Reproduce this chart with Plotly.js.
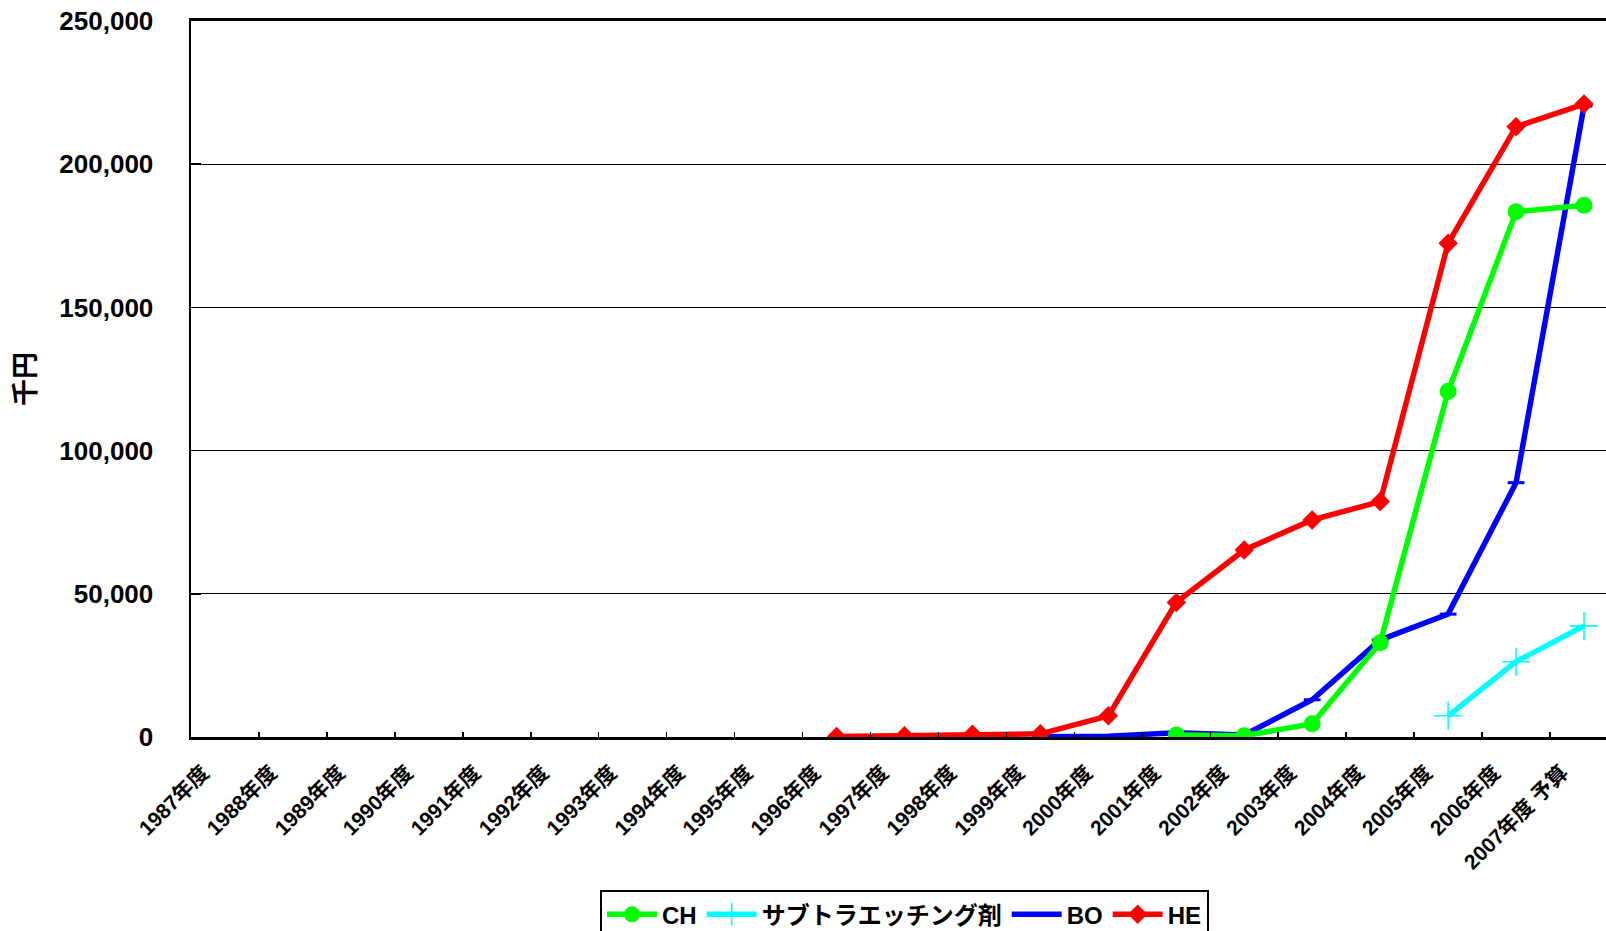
<!DOCTYPE html>
<html>
<head>
<meta charset="utf-8">
<script src="https://cdn.plot.ly/plotly-3.0.1.min.js"></script>
<style>
html,body{margin:0;padding:0;overflow:hidden;background:#fff;}
#chart{width:1630px;height:970px;}
</style>
</head>
<body>
<div id="chart"></div>
<script>
const categories = ["1987年度","1988年度","1989年度","1990年度","1991年度","1992年度","1993年度","1994年度","1995年度","1996年度","1997年度","1998年度","1999年度","2000年度","2001年度","2002年度","2003年度","2004年度","2005年度","2006年度","2007年度 予算"];
const chValues   = [null,null,null,null,null,null,null,null,null,null,null,null,null,null,700,450,4600,32900,120700,183400,185700];
const subValues  = [null,null,null,null,null,null,null,null,null,null,null,null,null,null,null,null,null,null,7400,26300,38800];
const boValues   = [null,null,null,null,null,null,null,null,null,null,null,null,100,300,1500,700,13000,33900,42900,88800,220300];
const heValues   = [null,null,null,null,null,null,null,null,null,200,400,1000,1100,7400,47000,65300,75800,82200,172400,213100,221000];
const yTicks = [0,50000,100000,150000,200000,250000];
const yTickText = ["0","50,000","100,000","150,000","200,000","250,000"];
const seriesNames = ["CH","サブトラエッチング剤","BO","HE"];

const FONT = "Liberation Sans, Arial, Noto Sans CJK JP, sans-serif";

const traces = [
  {
    x: categories, y: boValues, name: seriesNames[2], type: "scatter", mode: "lines+markers",
    legendrank: 3,
    line: {color: "#0000FF", width: 5.5},
    marker: {symbol: "line-ew-open", size: 12, line: {color: "#0000FF", width: 3}}
  },
  {
    x: categories, y: subValues, name: seriesNames[1], type: "scatter", mode: "lines+markers",
    legendrank: 2,
    line: {color: "#00FFFF", width: 5.5},
    marker: {symbol: "cross-thin-open", size: 20, line: {color: "#008080", width: 1.6}}
  },
  {
    x: categories, y: chValues, name: seriesNames[0], type: "scatter", mode: "lines+markers",
    legendrank: 1,
    line: {color: "#00FF00", width: 5.5},
    marker: {symbol: "circle", size: 17, color: "#00FF00"}
  },
  {
    x: categories, y: heValues, name: seriesNames[3], type: "scatter", mode: "lines+markers",
    legendrank: 4,
    line: {color: "#FF0000", width: 5.5},
    marker: {symbol: "diamond", size: 15, color: "#FF0000"}
  }
];

const layout = {
  width: 1630, height: 970,
  margin: {l: 191, r: 12, t: 21, b: 233},
  paper_bgcolor: "#fff", plot_bgcolor: "#fff",
  font: {family: FONT, color: "#000"},
  showlegend: true,
  legend: {
    orientation: "h", x: 0.5, xanchor: "center", y: -0.214, yanchor: "top",
    bordercolor: "#000", borderwidth: 2, bgcolor: "#fff",
    font: {family: "Liberation Sans, Noto Sans CJK JP, sans-serif", size: 24, weight: "bold", color: "#000"},
    traceorder: "normal", itemwidth: 50
  },
  xaxis: {
    type: "category", categoryorder: "array", categoryarray: categories,
    range: [-0.5, 20.5],
    tickson: "boundaries", ticks: "inside", ticklen: 5, tickwidth: 1.5, tickcolor: "#000",
    tickangle: -45, ticklabelstandoff: 12, ticklabelshift: -22,
    tickfont: {family: "Liberation Sans, Noto Sans CJK JP, sans-serif", size: 21, weight: "bold", color: "#000"},
    showline: true, linecolor: "#000", linewidth: 3, mirror: true,
    showgrid: false, zeroline: false
  },
  yaxis: {
    range: [0, 250000],
    tickvals: yTicks, ticktext: yTickText,
    ticks: "inside", ticklen: 10, tickwidth: 1.5, tickcolor: "#000",
    ticklabelstandoff: 30,
    tickfont: {family: FONT, size: 26, weight: "bold", color: "#000"},
    showline: true, linecolor: "#000", linewidth: 2.5,
    showgrid: true, gridcolor: "#000", gridwidth: 1.2,
    zeroline: false,
    title: {text: "千円", standoff: 16, font: {family: "Noto Sans CJK JP, sans-serif", size: 27, weight: "bold", color: "#000"}}
  }
};

Plotly.newPlot("chart", traces, layout, {displayModeBar: false, staticPlot: true});
</script>
</body>
</html>
